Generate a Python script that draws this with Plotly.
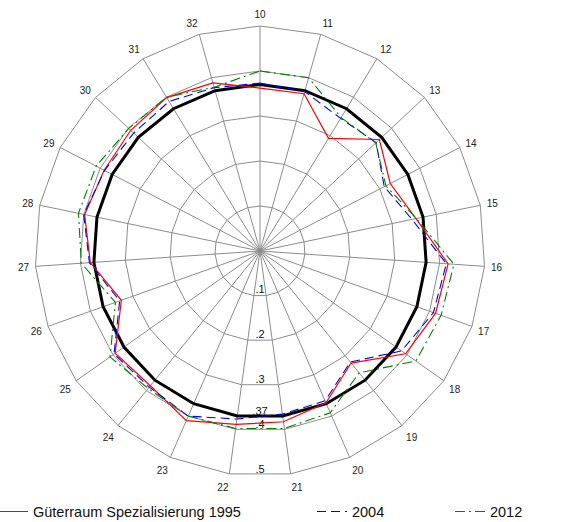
import plotly.graph_objects as go

categories = [str(c) for c in range(10, 33)]

guterraum_1995 = [0.362, 0.363, 0.293, 0.363, 0.326, 0.354, 0.419, 0.414, 0.396, 0.321,
                  0.368, 0.383, 0.389, 0.411, 0.386, 0.394, 0.327, 0.378, 0.398, 0.390,
                  0.393, 0.399, 0.388]
values_2004 = [0.373, 0.368, 0.345, 0.353, 0.311, 0.345, 0.415, 0.409, 0.385, 0.318,
               0.363, 0.366, 0.377, 0.400, 0.390, 0.397, 0.331, 0.380, 0.400, 0.389,
               0.384, 0.389, 0.377]
values_2012 = [0.400, 0.400, 0.347, 0.352, 0.315, 0.355, 0.432, 0.427, 0.424, 0.349,
               0.392, 0.398, 0.398, 0.400, 0.394, 0.408, 0.341, 0.398, 0.412, 0.410,
               0.399, 0.400, 0.378]
reference_level = 0.37

radial_tickvals = [0.1, 0.2, 0.3, 0.37, 0.4, 0.5]
radial_ticktext = [".1", ".2", ".3", ".37", ".4", ".5"]
grid_rings = [0.1, 0.2, 0.3, 0.4, 0.5]

series_names = ["Güterraum Spezialisierung 1995", "2004", "2012"]

FONT = "Liberation Sans, Arial, sans-serif"
GRID = "rgb(140,140,140)"


def closed(v):
    return list(v) + [v[0]]


theta_closed = closed(categories)

fig = go.Figure()

fig.add_trace(go.Scatterpolar(
    r=closed([reference_level] * len(categories)), theta=theta_closed,
    mode="lines", line=dict(color="black", width=3), showlegend=False,
    subplot="polar"))

fig.add_trace(go.Scatterpolar(
    r=closed(guterraum_1995), theta=theta_closed, mode="lines",
    name=series_names[0], line=dict(color="#ff0000", width=1.2),
    subplot="polar", legend="legend"))
fig.add_trace(go.Scatterpolar(
    r=closed(values_2004), theta=theta_closed, mode="lines",
    name=series_names[1], line=dict(color="#0000ff", width=1.1, dash="9px,5px"),
    subplot="polar", legend="legend2"))
fig.add_trace(go.Scatterpolar(
    r=closed(values_2012), theta=theta_closed, mode="lines",
    name=series_names[2], line=dict(color="#008000", width=1.1, dash="10px,4px,2px,4px"),
    subplot="polar", legend="legend3"))

# radial tick labels along the downward direction (overlay polar with numeric angles)
fig.add_trace(go.Scatterpolar(
    r=radial_tickvals, theta=[180] * len(radial_tickvals), mode="text",
    text=radial_ticktext, textposition="top center",
    textfont=dict(family=FONT, size=11, color="#111"),
    showlegend=False, subplot="polar2", hoverinfo="skip"))

domain = dict(x=[35 / 566, 485 / 566], y=[46 / 522, 496 / 522])

legend_common = dict(orientation="h", y=0.02, xanchor="left", yanchor="middle",
                     bgcolor="rgba(0,0,0,0)", font=dict(family=FONT, size=14.5, color="#111"))

fig.update_layout(
    width=566, height=522,
    margin=dict(l=0, r=0, t=0, b=0, autoexpand=False),
    paper_bgcolor="white",
    font=dict(family=FONT, color="#111"),
    polar=dict(
        domain=domain,
        gridshape="linear",
        bgcolor="white",
        radialaxis=dict(range=[0, 0.5], tickvals=grid_rings, showticklabels=False,
                        ticks="", showline=False, gridcolor=GRID, gridwidth=1),
        angularaxis=dict(type="category", categoryarray=categories,
                         direction="clockwise", rotation=90,
                         showline=True, linecolor=GRID, linewidth=1,
                         gridcolor=GRID, gridwidth=1,
                         ticks="outside", ticklen=4, tickcolor="rgba(0,0,0,0)",
                         tickfont=dict(family=FONT, size=10, color="#222")),
    ),
    polar2=dict(
        domain=domain,
        bgcolor="rgba(0,0,0,0)",
        radialaxis=dict(range=[0, 0.5], visible=False, showgrid=False),
        angularaxis=dict(direction="clockwise", rotation=90, visible=False,
                         showgrid=False, showline=False),
    ),
    legend=dict(x=-0.0124, **legend_common),
    legend2=dict(x=0.5512, **legend_common),
    legend3=dict(x=0.795, **legend_common),
)

fig.write_html("out.html", config={"displayModeBar": False},
               post_script="document.body.style.margin='0px';")
